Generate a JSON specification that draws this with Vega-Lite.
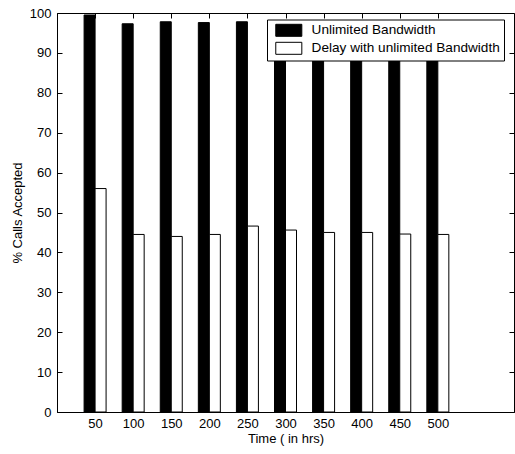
{
  "$schema": "https://vega.github.io/schema/vega-lite/v6.json",
  "width": 457,
  "height": 399,
  "autosize": {"type": "none"},
  "padding": {"left": 57, "top": 13, "right": 1, "bottom": 42},
  "background": "white",
  "config": {
    "view": {"stroke": "black", "strokeWidth": 1},
    "font": "Liberation Sans",
    "axis": {
      "labelFontSize": 13,
      "titleFontSize": 13,
      "titleFontWeight": "normal",
      "labelColor": "black",
      "titleColor": "black",
      "tickColor": "black",
      "domainColor": "black",
      "grid": false,
      "tickSize": 5,
      "labelPadding": 6
    }
  },
  "data": {
    "values": [
      {"time": 50, "series": "Unlimited Bandwidth", "value": 99.5},
      {"time": 100, "series": "Unlimited Bandwidth", "value": 97.3},
      {"time": 150, "series": "Unlimited Bandwidth", "value": 97.8},
      {"time": 200, "series": "Unlimited Bandwidth", "value": 97.6},
      {"time": 250, "series": "Unlimited Bandwidth", "value": 97.8},
      {"time": 300, "series": "Unlimited Bandwidth", "value": 97.5},
      {"time": 350, "series": "Unlimited Bandwidth", "value": 97.5},
      {"time": 400, "series": "Unlimited Bandwidth", "value": 97.5},
      {"time": 450, "series": "Unlimited Bandwidth", "value": 97.5},
      {"time": 500, "series": "Unlimited Bandwidth", "value": 97.5},
      {"time": 50, "series": "Delay with unlimited Bandwidth", "value": 56.0},
      {"time": 100, "series": "Delay with unlimited Bandwidth", "value": 44.5},
      {"time": 150, "series": "Delay with unlimited Bandwidth", "value": 44.0},
      {"time": 200, "series": "Delay with unlimited Bandwidth", "value": 44.5},
      {"time": 250, "series": "Delay with unlimited Bandwidth", "value": 46.6},
      {"time": 300, "series": "Delay with unlimited Bandwidth", "value": 45.6},
      {"time": 350, "series": "Delay with unlimited Bandwidth", "value": 45.0},
      {"time": 400, "series": "Delay with unlimited Bandwidth", "value": 45.0},
      {"time": 450, "series": "Delay with unlimited Bandwidth", "value": 44.6},
      {"time": 500, "series": "Delay with unlimited Bandwidth", "value": 44.5}
    ]
  },
  "layer": [
    {
      "transform": [{"filter": "datum.series === 'Unlimited Bandwidth'"}],
      "mark": {"type": "bar", "width": 11, "xOffset": -5.5, "stroke": "black", "strokeWidth": 1},
      "encoding": {
        "x": {
          "field": "time", "type": "quantitative",
          "scale": {"domain": [0, 600], "nice": false, "padding": 0},
          "axis": {"orient": "bottom", "values": [50, 100, 150, 200, 250, 300, 350, 400, 450, 500], "ticks": false, "labelPadding": 5, "title": "Time ( in hrs)", "titlePadding": 2}
        },
        "y": {
          "field": "value", "type": "quantitative",
          "scale": {"domain": [0, 100], "nice": false, "padding": 0},
          "axis": {"orient": "left", "values": [0, 10, 20, 30, 40, 50, 60, 70, 80, 90, 100], "ticks": false, "title": "% Calls Accepted", "titlePadding": 5}
        },
        "color": {
          "field": "series", "type": "nominal",
          "scale": {"domain": ["Unlimited Bandwidth", "Delay with unlimited Bandwidth"], "range": ["black", "white"]},
          "legend": {
            "orient": "none", "legendX": 210, "legendY": 6.5, "title": null,
            "direction": "vertical",
            "symbolType": "M-2.17,-1H2.17V1H-2.17Z", "symbolSize": 144,
            "symbolOffset": 11,
            "symbolStrokeColor": "black", "symbolStrokeWidth": 1, "symbolOpacity": 1,
            "fillColor": "white", "strokeColor": "black", "padding": 4,
            "labelFontSize": 13.6, "labelOffset": 16, "labelColor": "black", "labelLimit": 400,
            "rowPadding": 1
          }
        }
      }
    },
    {
      "transform": [{"filter": "datum.series === 'Delay with unlimited Bandwidth'"}],
      "mark": {"type": "bar", "width": 11, "xOffset": 5.5, "stroke": "black", "strokeWidth": 1},
      "encoding": {
        "x": {"field": "time", "type": "quantitative",
          "axis": {"orient": "top", "offset": -399, "values": [50, 100, 150, 200, 250, 300, 350, 400, 450, 500], "labels": false, "title": null, "domain": false}},
        "y": {"field": "value", "type": "quantitative",
          "axis": {"orient": "right", "offset": -457, "values": [0, 10, 20, 30, 40, 50, 60, 70, 80, 90, 100], "labels": false, "title": null, "domain": false}},
        "color": {"field": "series", "type": "nominal"}
      }
    },
    {
      "mark": {"type": "point", "opacity": 0},
      "encoding": {
        "x": {"field": "time", "type": "quantitative",
          "axis": {"orient": "bottom", "offset": -399, "values": [50, 100, 150, 200, 250, 300, 350, 400, 450, 500], "labels": false, "title": null, "domain": false}},
        "y": {"field": "value", "type": "quantitative",
          "axis": {"orient": "left", "offset": -457, "values": [0, 10, 20, 30, 40, 50, 60, 70, 80, 90, 100], "labels": false, "title": null, "domain": false}}
      }
    }
  ]
}
